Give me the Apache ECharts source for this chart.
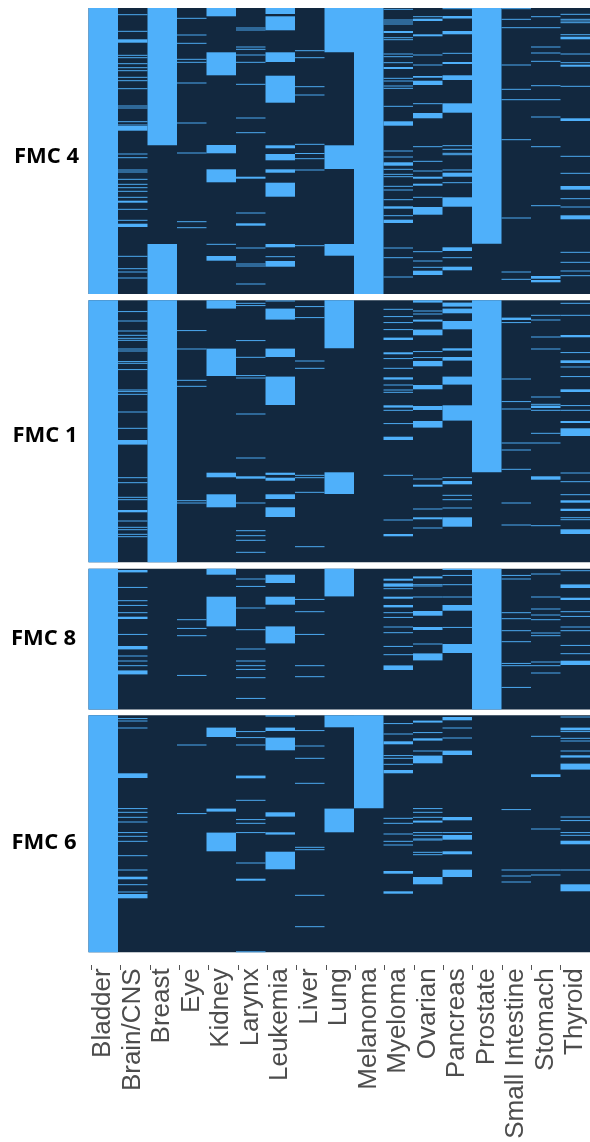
<!DOCTYPE html>
<html><head><meta charset="utf-8">
<style>html,body{margin:0;padding:0;background:#fff}#c{width:590px;height:1142px}</style>
<script src="https://cdn.jsdelivr.net/npm/echarts@6/dist/echarts.min.js"></script>
</head><body><div id="c"></div>
<script>
// Row position inside each cohort: a number is a single sample row, a pair is a run of rows [from, to].
const categories = ['Bladder','Brain/CNS','Breast','Eye','Kidney','Larynx','Leukemia','Liver','Lung','Melanoma','Myeloma','Ovarian','Pancreas','Prostate','Small Intestine','Stomach','Thyroid'];
const panelNames = ['FMC 4','FMC 1','FMC 8','FMC 6'];
const panelRows = [286, 262, 140.7, 237];

const fmc4 = [
 [[0,286]],
 [6.7,23.3,[31.3,34.7],47.3,49.7,55.7,59.7,62.7,69.3,72.7,80.7,98,100,113.7,117,[118,122.7],146,149.7,162,164,171.3,176.3,179.7,183.3,189.3,[192.7,194.7],201.3,212.3,[215.7,219],248.3,260.7,264,270],
 [[0,137.3],[236,286]],
 [10.3,27,35.3,51.3,54.3,75,115,145,213.7,219.7],
 [[0,8.3],[44.3,67.3],[137,145.3],[161.3,174.3],236.3,[248,252.7]],
 [20,22,39,41.3,47,54.3,76.3,110,124.7,[168.7,170.7],205,[215.3,217.7],240,256,258,276],
 [[0,6],[8.3,22.3],[44.3,54],[67.7,94.7],[137.3,140.3],[146,152.3],[161.3,164.7],[174.7,188.7],[236,239.3],248.7,[253,258.7]],
 [42.7,49.7,78.7,87,136.3,145.5,150.7,162,237.7],
 [[0,44.3],[137.3,161],[236,247.7]],
 [[0,286]],
 [1.3,12,14,16,[23,25],29.7,31.7,46,48.7,54.7,[59,61],70.3,73,78,80.3,98.3,[113.3,117.7],143,149,[154.3,157.7],161.3,166.3,168.7,178.3,182,191.7,[198.3,200.7],207.7,[211.7,215],240,249.7,269],
 [8.7,[10.7,13],[26.3,28.3],47,57,[68,69.7],[72.7,77],95.7,[105,110.3],138.7,153.3,163,[168.7,170.7],[175.7,177.7],189.3,[199,206.7],243.7,253,259.3,[262.7,267]],
 [0.7,[8,10.5],[23,26.3],45.3,[54,56],[67.3,72],[95.3,104.7],137.7,141.3,145.3,146.7,162,[164.7,168.7],174.7,[189.3,198.7],[239.3,243],249.7,[258.7,262.3]],
 [[0,235.7]],
 [0.7,11.3,19.7,57,81.3,91.7,131.7,210,264,271.3],
 [8.7,19.7,39,45,53.3,77.7,91.7,109,138.7,197.7,[268,270.7],[272,274.3]],
 [6.3,11.3,13,14.7,26.7,[28.7,31.3],46,54.7,[56.7,58.7],78.3,[110.3,113],148.3,165.3,[178,181.7],190.7,199,[207.3,211.3],244.3,254.3,263,267.7]
];

const fmc1 = [
 [[0,262]],
 [11.3,20.7,30.7,35,38,40,48.7,50.7,61.3,63,69.3,89.7,91.3,94,111.7,128,[139.7,144.3],177.4,182.4,197,199.4,[209.7,212],220.7,227,229.4,234,236.4],
 [[0,262]],
 [30.3,48.7,80,86,200.4,202.7],
 [[0,8.3],[48.3,75.7],[172.4,177],[194,207]],
 [3,5.3,40.3,57,75.3,77.7,113.7,157.7,[176,178.4],202.7,230.4,235.4,240,252],
 [0.7,[8.3,19.3],[48.3,56.7],[76.3,104.7],[172.4,174.6],[177.4,180.4],[194,198.7],[207,216.7]],
 [6.3,17.3,60.7,68,175,177.4,192,246.4],
 [[0,48],[172,193.7]],
 [],
 [9,16.3,22.3,29.3,[37.3,39.7],[52,54],58.3,68,[77,79.3],84.7,89.7,92,[105,107.3],110,123.3,[136.4,139.7],175,219.7,[233.7,236]],
 [[0,2.3],10.7,13.7,[19.3,21.3],[29.3,35],51.3,57.3,[60.7,66],[84.7,89],[105.7,109.7],[120.7,127.3],178.7,[184.4,186.4],208.7,[217,219],227.7],
 [[2.3,6.3],[8.3,13],[20.7,29],[48,50.3],[56.7,60.3],[76.3,84.3],[105,120.3],177.4,[180.7,184],195,199.4,207.7,[217,226.4]],
 [[0,172]],
 [[17.3,19.7],22.3,78.7,101.3,108.7,142.7,149.7,169,202.7,224.7],
 [15,19.7,36.7,48.7,96.7,104,[105.3,107.7],110,133,142.7,[176,179.4],225.4],
 [3,15,[34.7,37],52.3,[60,62.7],66.7,76.3,[89,91.7],105.3,110,[120.7,122.7],[128,135.7],172.7,181.4,194.4,[200,202.4],[208.4,210.7],217.4,219.4,[229,233.7]]
];

const fmc8 = [
 [[0,140.7]],
 [[1.3,3.7],18.7,32,36.7,44,[48,50.3],65.7,[77.3,80.7],87.3,92.3,97,[101.7,105.7]],
 [],
 [51,59.7,67,106.7],
 [[0,6],[28,57.7]],
 [10.3,17.7,39.3,61,80.3,92.3,97,100.7,109,129.7],
 [[6,14.3],[28,36],[57.7,74.7]],
 [30.7,43,65.7,97,108],
 [[0,27.7]],
 [],
 [[10,12],[14.7,18],20,[28,30],[36.3,38.7],44,48.7,58.3,64,77.7,86,[96.7,101.3]],
 [[7.7,9.7],16,17.3,28.3,[42.3,47],[58.3,61.3],75.3,[84.7,91.7]],
 [[0,1.3],6.7,16,28.3,[36.3,42],58.7,[75.3,84.3]],
 [[0,140.7]],
 [6.7,10.3,44,50,62,73,94.7,97,118.7],
 [5.3,28.3,40.3,46.3,51,64.3,67,93.3,97,104.3],
 [2,[15.7,19.3],[29,31.3],43,47.7,58.3,62,76.7,85,[92,96.3]]
];

const fmc6 = [
 [[0,237]],
 [3.3,5.7,12.7,[58,62.7],93.3,97,102,106.7,117.3,121,126,140.4,154.7,[161.4,164],169.4,176.7,[178.7,183]],
 [],
 [29.7,98.3],
 [[12.3,21.7],[93.3,96.3],[117.3,136]],
 [16.3,22.3,29.7,[60.3,63],85,104.3,108,117.3,147.7,[163.4,165.4],[236,237]],
 [[0,1.3],[12.3,15.7],[22.3,35],[97,101.3],[117,119.3],[136.4,154]],
 [15.3,30.7,43,68,132,134.4,180,211.4],
 [[0,12],[93.3,117]],
 [[0,93]],
 [8.3,18.7,[26,29],40.3,43,49,[54.7,58],103,108,118.7,126,129.7,[155.7,158.4],[176,178.4]],
 [[5.3,7.3],17.3,[23,25.3],35.7,[40.3,48],93.3,97,102,[105.3,107.3],117.3,120,123.7,124.7,137,139.4,[161.7,169]],
 [[1.7,5],12.7,22.7,[35.3,39.7],[101.7,105],117.3,[119.7,124.4],[136,139],[154.4,161.7]],
 [],
 [94.3,154.7,160.7,166.7],
 [21,[59,61.7],113.7,154.7,159.7],
 [1.7,[12.3,15],16.3,23,25.7,35.7,[40,42.3],[48.3,54.3],101.7,105.3,117.3,120,[125.4,129],154.7,[169,176]]
];

const panels = [fmc4, fmc1, fmc8, fmc6];
const panelTops = [8, 300.3, 568.7, 715.3];
const panelLabelY = [141, 420, 623, 827];
const panelLabelX = [41.5, 40, 38.5, 39];
const LIGHT = '#4FB0FA', DARK = '#12283F', LINE = 0.95;
const GL = 88.5, GW = 501.5;

const grids = [], xAxes = [], yAxes = [], series = [], titles = [];
panels.forEach((panel, p) => {
  grids.push({left: GL, top: panelTops[p], width: GW, height: panelRows[p], backgroundColor: DARK, show: true, borderWidth: 0});
  xAxes.push({
    type: 'category', gridIndex: p, data: categories, boundaryGap: true, position: 'bottom',
    show: p === 3, axisLine: {show: false}, axisTick: {show: false},
    axisLabel: {interval: 0, rotate: 90, margin: 16, fontFamily: '"Liberation Sans"', fontSize: 26, color: '#4d4d4d', hideOverlap: false}
  });
  yAxes.push({type: 'value', gridIndex: p, min: 0, max: panelRows[p], inverse: true, show: false, splitLine: {show: false}});
  const data = [];
  panel.forEach((col, c) => col.forEach(s => {
    if (Array.isArray(s)) data.push([c, s[0], s[1]]);
    else data.push([c, s - LINE / 2, s + LINE / 2]);
  }));
  series.push({
    type: 'custom', xAxisIndex: p, yAxisIndex: p, data, silent: true, animation: false,
    encode: {x: 0, y: [1, 2]}, clip: false,
    renderItem(params, api) {
      const a = api.coord([api.value(0), api.value(1)]);
      const b = api.coord([api.value(0), api.value(2)]);
      const w = api.size([1, 0])[0];
      return {type: 'rect', shape: {x: a[0] - w / 2, y: a[1], width: w, height: b[1] - a[1]}, style: {fill: LIGHT}};
    }
  });
  titles.push({text: panelNames[p], left: panelLabelX[p], top: panelLabelY[p], textAlign: 'center',
    textStyle: {fontFamily: '"Open Sans"', fontWeight: 'bold', fontSize: 22, color: '#000'}});
});

// tick row under the last panel
grids.push({left: 91.4, top: 964, width: 17 * 29.56, height: 1, show: false});
xAxes.push({type: 'category', gridIndex: 4, data: categories, boundaryGap: true, position: 'bottom',
  axisLine: {show: false}, axisLabel: {show: false},
  axisTick: {show: true, length: 5, lineStyle: {color: '#555', width: 1}, interval: 0}});
yAxes.push({type: 'value', gridIndex: 4, min: 0, max: 1, show: false});

const chart = echarts.init(document.getElementById('c'), null, {renderer: 'canvas'});
chart.setOption({animation: false, backgroundColor: '#fff', title: titles, grid: grids, xAxis: xAxes, yAxis: yAxes, series});
</script></body></html>
